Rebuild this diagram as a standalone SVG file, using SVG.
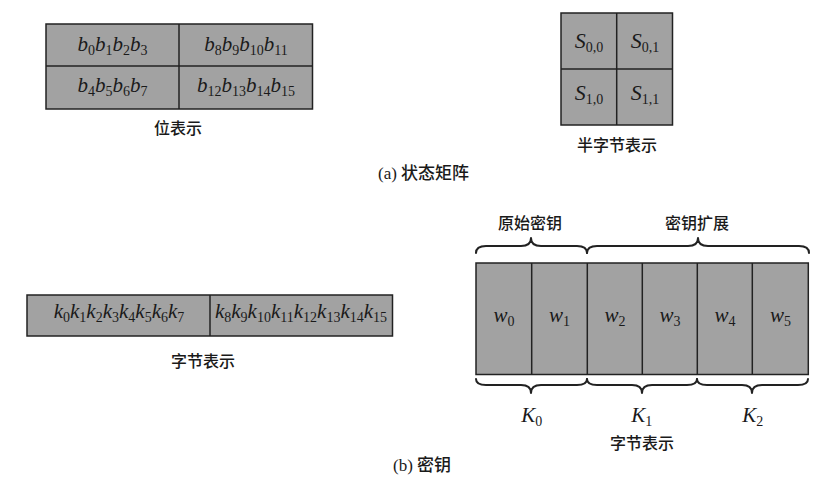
<svg xmlns="http://www.w3.org/2000/svg" width="825" height="483" viewBox="0 0 825 483">
<style>
.cell{fill:#a2a2a2;stroke:#222;stroke-width:1.5}
.div{stroke:#222;stroke-width:1.5;fill:none}
.brace{fill:none;stroke:#222;stroke-width:2;stroke-linejoin:round;stroke-linecap:round}
.m{font-family:"Liberation Serif",serif;font-style:italic;font-size:21px;fill:#1a1a1a}
.s{font-size:14px;font-style:normal}
.mi{font-family:"Liberation Serif",serif;font-style:italic;font-size:22px;fill:#1a1a1a}
.cn{font-family:"Liberation Serif","Noto Sans CJK SC",serif;font-size:16px;font-weight:500;fill:#1a1a1a}
.cap{font-size:17px}
</style>
<rect width="825" height="483" fill="#fff"/>

<g id="bit-matrix">
<rect class="cell" x="46" y="24" width="266.5" height="85"/>
<line class="div" x1="179" y1="24" x2="179" y2="109"/>
<line class="div" x1="46" y1="66" x2="312.5" y2="66"/>
<text class="m" x="112.5" y="51" text-anchor="middle">b<tspan class="s" dy="4">0</tspan><tspan dy="-4">b</tspan><tspan class="s" dy="4">1</tspan><tspan dy="-4">b</tspan><tspan class="s" dy="4">2</tspan><tspan dy="-4">b</tspan><tspan class="s" dy="4">3</tspan></text>
<text class="m" x="246" y="51" text-anchor="middle">b<tspan class="s" dy="4">8</tspan><tspan dy="-4">b</tspan><tspan class="s" dy="4">9</tspan><tspan dy="-4">b</tspan><tspan class="s" dy="4">10</tspan><tspan dy="-4">b</tspan><tspan class="s" dy="4">11</tspan></text>
<text class="m" x="112.5" y="92" text-anchor="middle">b<tspan class="s" dy="4">4</tspan><tspan dy="-4">b</tspan><tspan class="s" dy="4">5</tspan><tspan dy="-4">b</tspan><tspan class="s" dy="4">6</tspan><tspan dy="-4">b</tspan><tspan class="s" dy="4">7</tspan></text>
<text class="m" x="246" y="92" text-anchor="middle">b<tspan class="s" dy="4">12</tspan><tspan dy="-4">b</tspan><tspan class="s" dy="4">13</tspan><tspan dy="-4">b</tspan><tspan class="s" dy="4">14</tspan><tspan dy="-4">b</tspan><tspan class="s" dy="4">15</tspan></text>
<text class="cn" x="178" y="134" text-anchor="middle">位表示</text>
</g>

<g id="nibble-matrix">
<rect class="cell" x="561" y="13" width="111.5" height="112"/>
<line class="div" x1="616.7" y1="13" x2="616.7" y2="125"/>
<line class="div" x1="561" y1="69" x2="672.5" y2="69"/>
<text class="mi" x="589" y="48" text-anchor="middle">S<tspan class="s" dy="4">0,0</tspan></text>
<text class="mi" x="645" y="48" text-anchor="middle">S<tspan class="s" dy="4">0,1</tspan></text>
<text class="mi" x="589" y="100" text-anchor="middle">S<tspan class="s" dy="4">1,0</tspan></text>
<text class="mi" x="645" y="100" text-anchor="middle">S<tspan class="s" dy="4">1,1</tspan></text>
<text class="cn" x="617" y="151" text-anchor="middle">半字节表示</text>
</g>

<g id="caption-a">
<text class="cn cap" x="378" y="179">(a) 状态矩阵</text>
</g>

<g id="key-bytes">
<rect class="cell" x="27" y="295" width="365.5" height="41"/>
<line class="div" x1="210" y1="295" x2="210" y2="336"/>
<text class="m" x="119" y="318" text-anchor="middle">k<tspan class="s" dy="4">0</tspan><tspan dy="-4">k</tspan><tspan class="s" dy="4">1</tspan><tspan dy="-4">k</tspan><tspan class="s" dy="4">2</tspan><tspan dy="-4">k</tspan><tspan class="s" dy="4">3</tspan><tspan dy="-4">k</tspan><tspan class="s" dy="4">4</tspan><tspan dy="-4">k</tspan><tspan class="s" dy="4">5</tspan><tspan dy="-4">k</tspan><tspan class="s" dy="4">6</tspan><tspan dy="-4">k</tspan><tspan class="s" dy="4">7</tspan></text>
<text class="m" x="301" y="318" text-anchor="middle">k<tspan class="s" dy="4">8</tspan><tspan dy="-4">k</tspan><tspan class="s" dy="4">9</tspan><tspan dy="-4">k</tspan><tspan class="s" dy="4">10</tspan><tspan dy="-4">k</tspan><tspan class="s" dy="4">11</tspan><tspan dy="-4">k</tspan><tspan class="s" dy="4">12</tspan><tspan dy="-4">k</tspan><tspan class="s" dy="4">13</tspan><tspan dy="-4">k</tspan><tspan class="s" dy="4">14</tspan><tspan dy="-4">k</tspan><tspan class="s" dy="4">15</tspan></text>
<text class="cn" x="203" y="367" text-anchor="middle">字节表示</text>
</g>

<g id="key-words">
<rect class="cell" x="476" y="263" width="332.3" height="111.5"/>
<line class="div" x1="531.7" y1="263" x2="531.7" y2="374.5"/>
<line class="div" x1="587.3" y1="263" x2="587.3" y2="374.5"/>
<line class="div" x1="642.3" y1="263" x2="642.3" y2="374.5"/>
<line class="div" x1="697.3" y1="263" x2="697.3" y2="374.5"/>
<line class="div" x1="752.3" y1="263" x2="752.3" y2="374.5"/>
<text class="m" x="504" y="322" text-anchor="middle">w<tspan class="s" dy="4">0</tspan></text>
<text class="m" x="559.5" y="322" text-anchor="middle">w<tspan class="s" dy="4">1</tspan></text>
<text class="m" x="615" y="322" text-anchor="middle">w<tspan class="s" dy="4">2</tspan></text>
<text class="m" x="670" y="322" text-anchor="middle">w<tspan class="s" dy="4">3</tspan></text>
<text class="m" x="725" y="322" text-anchor="middle">w<tspan class="s" dy="4">4</tspan></text>
<text class="m" x="780.5" y="322" text-anchor="middle">w<tspan class="s" dy="4">5</tspan></text>
<text class="cn" x="530" y="229" text-anchor="middle">原始密钥</text>
<text class="cn" x="697" y="229" text-anchor="middle">密钥扩展</text>
<text class="m" x="531.7" y="422" text-anchor="middle">K<tspan class="s" dy="4">0</tspan></text>
<text class="m" x="641.7" y="422" text-anchor="middle">K<tspan class="s" dy="4">1</tspan></text>
<text class="m" x="752.7" y="422" text-anchor="middle">K<tspan class="s" dy="4">2</tspan></text>
<text class="cn" x="642" y="449" text-anchor="middle">字节表示</text>
</g>

<g id="braces">
<path class="brace" d="M476,253 Q476,246 486,246 L521,246 Q531,246 531,238 Q531,246 541,246 L577,246 Q587,246 587,253"/>
<path class="brace" d="M587,253 Q587,246 597,246 L688,246 Q698,246 698,238 Q698,246 708,246 L799,246 Q809,246 809,253"/>
<path class="brace" d="M476,379 Q476,385 486,385 L521,385 Q531,385 531,393 Q531,385 541,385 L577,385 Q587,385 587,379"/>
<path class="brace" d="M587,379 Q587,385 597,385 L632,385 Q642,385 642,393 Q642,385 652,385 L687,385 Q697,385 697,379"/>
<path class="brace" d="M697,379 Q697,385 707,385 L742,385 Q752,385 752,393 Q752,385 762,385 L798,385 Q808,385 808,379"/>
</g>

<g id="caption-b">
<text class="cn cap" x="393" y="471">(b) 密钥</text>
</g>
</svg>
